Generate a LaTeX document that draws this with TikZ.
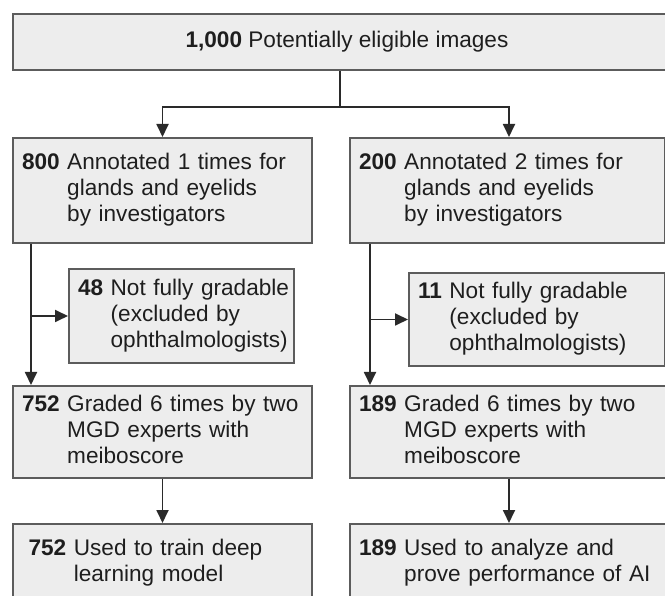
\documentclass[tikz,border=0pt]{standalone}
\usepackage{fontspec}
\setmainfont{Liberation Sans}
\usetikzlibrary{arrows.meta}
\definecolor{boxfill}{HTML}{EDEDED}
\definecolor{boxline}{HTML}{5C5C5C}
\definecolor{wire}{HTML}{2A2A2A}
\definecolor{ink}{HTML}{1E1E1E}
\tikzset{
  box/.style={draw=boxline, fill=boxfill, line width=2pt, anchor=north west,
    inner ysep=0pt, inner xsep=9pt, align=left, text=ink,
    font=\fontsize{22.6pt}{26pt}\selectfont},
  arr/.style={draw=wire, line width=1.8pt, -{Triangle[length=13pt,width=12pt]}},
  wireline/.style={draw=wire, line width=1.8pt}
}
\newcommand{\hangrows}[1]{\raisebox{-2pt}{\begin{tabular}{@{}l@{ }l@{}}#1\end{tabular}}}
\begin{document}
\begin{tikzpicture}[x=1pt, y=-1pt]
  \useasboundingbox (0,0) rectangle (665,596);
  \clip (0,0) rectangle (665,596);

  % boxes
  \node[box, minimum width=668pt, minimum height=56pt, align=center] (top) at (12,13)
    {\textbf{1,000} Potentially eligible images};

  \node[box, text width=281pt, minimum height=105pt] (a) at (12,137)
    {\hangrows{\textbf{800} & Annotated 1 times for\\ & glands and eyelids\\ & by investigators}};
  \node[box, text width=297pt, minimum height=105pt] (b) at (349,137)
    {\hangrows{\textbf{200} & Annotated 2 times for\\ & glands and eyelids\\ & by investigators}};

  \node[box, text width=207pt, minimum height=94pt] (c) at (68,268)
    {\hangrows{\textbf{48} & Not fully gradable\\ & (excluded by\\ & ophthalmologists)}};
  \node[box, text width=238pt, minimum height=93pt] (d) at (408,272)
    {\hangrows{\textbf{11} & Not fully gradable\\ & (excluded by\\ & ophthalmologists)}};

  \node[box, text width=281pt, minimum height=92pt] (e) at (12,385)
    {\hangrows{\textbf{752} & Graded 6 times by two\\ & MGD experts with\\ & meiboscore}};
  \node[box, text width=300pt, minimum height=92pt] (f) at (349,385)
    {\hangrows{\textbf{189} & Graded 6 times by two\\ & MGD experts with\\ & meiboscore}};

  \node[box, inner xsep=15.6pt, text width=267.8pt, minimum height=79pt] (g) at (12,523)
    {\hangrows{\textbf{752} & Used to train deep\\ & learning model}};
  \node[box, text width=300pt, minimum height=79pt] (h) at (349,523)
    {\hangrows{\textbf{189} & Used to analyze and\\ & prove performance of AI}};

  % connectors
  \coordinate (split) at (340,107);
  \coordinate (bx) at (509,0);
  \coordinate (lx) at (31,0);
  \coordinate (rx) at (370,0);

  \draw[wireline] (top.south -| split) -- (split);
  \draw[arr] (split) -| (a.north);
  \draw[arr] (split) -| (bx |- b.north);

  \draw[arr] (lx |- a.south) -- (lx |- e.north);
  \draw[arr] (lx |- c.west) -- (c.west);
  \draw[arr] (rx |- b.south) -- (rx |- f.north);
  \draw[arr] (rx |- d.west) -- (d.west);

  \draw[arr] (e.south) -- (g.north);
  \draw[arr] (f.south) -- (h.north);
\end{tikzpicture}
\end{document}
